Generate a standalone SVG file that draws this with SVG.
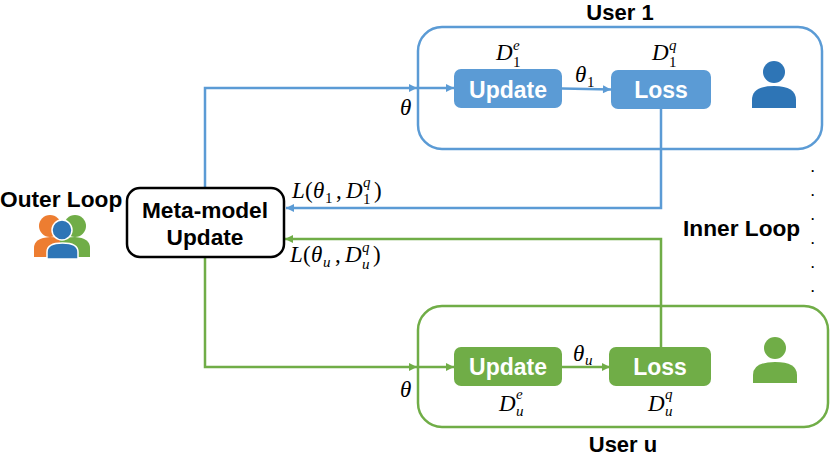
<svg xmlns="http://www.w3.org/2000/svg" width="830" height="457" viewBox="0 0 830 457">
<defs>
<marker id="ab" markerUnits="userSpaceOnUse" markerWidth="10" markerHeight="10" refX="9" refY="5" orient="auto"><path d="M1 1L9 5L1 9Z" fill="#5b9bd5"/></marker>
<marker id="ag" markerUnits="userSpaceOnUse" markerWidth="10" markerHeight="10" refX="9" refY="5" orient="auto"><path d="M1 1L9 5L1 9Z" fill="#70ad47"/></marker>
</defs>
<style>
text{font-family:"Liberation Sans",Arial,sans-serif;font-weight:700;fill:#000}
.t{font-size:22.7px}
.h{font-size:22px}
.w{font-size:23px;fill:#fff;text-anchor:middle}
.d{font-size:12px}
.m,.s,.n{font-family:"Liberation Serif","DejaVu Serif",serif;font-weight:400}
.m{font-style:italic;font-size:23px}
.n{font-size:23px}
.s{font-style:italic;font-size:15px}
.r{font-style:normal}
.cb{fill:none;stroke:#5b9bd5;stroke-width:2.5}
.cg{fill:none;stroke:#70ad47;stroke-width:2.5}
</style>
<g id="connectors">
<path class="cb" marker-end="url(#ab)" d="M205 187V88H417"/>
<path class="cb" marker-end="url(#ab)" d="M417 88H454"/>
<path class="cb" marker-end="url(#ab)" d="M562 88.500L611 89.500"/>
<path class="cb" marker-end="url(#ab)" d="M661 108V208H286"/>
<path class="cg" marker-end="url(#ag)" d="M661 347V239H285"/>
<path class="cg" marker-end="url(#ag)" d="M205 258V367H417"/>
<path class="cg" marker-end="url(#ag)" d="M417 367H454"/>
<path class="cg" marker-end="url(#ag)" d="M562 367H610"/>
</g>
<g id="user1">
<rect x="418" y="27" width="404" height="122" rx="24" fill="none" stroke="#5b9bd5" stroke-width="2.500"/>
<text class="h" x="620" y="20" text-anchor="middle">User 1</text>
<circle cx="774" cy="72" r="11" fill="#2e75b6"/>
<path d="M752 108V100Q752 86 774 86Q796 86 796 100V108Z" fill="#2e75b6"/>
</g>
<g id="update1"><rect x="454" y="69" width="108" height="39" rx="7" fill="#5b9bd5"/><text class="w" x="508" y="98">Update</text></g>
<g id="loss1"><rect x="611" y="70" width="100" height="39" rx="7" fill="#5b9bd5"/><text class="w" x="661" y="98">Loss</text></g>
<g id="useru">
<rect x="418" y="306" width="410" height="121" rx="24" fill="none" stroke="#70ad47" stroke-width="2.500"/>
<text class="h" x="623" y="452" text-anchor="middle">User u</text>
<circle cx="775" cy="348" r="11" fill="#70ad47"/>
<path d="M753 383V375Q753 362 775 362Q797 362 797 375V383Z" fill="#70ad47"/>
</g>
<g id="updateu"><rect x="454" y="347" width="108" height="39" rx="7" fill="#70ad47"/><text class="w" x="508" y="375">Update</text></g>
<g id="lossu"><rect x="609" y="347" width="102" height="39" rx="7" fill="#70ad47"/><text class="w" x="660" y="375">Loss</text></g>
<g id="meta">
<rect x="127" y="188" width="157" height="69" rx="13" fill="#fff" stroke="#000" stroke-width="2.500"/>
<text class="t" x="205" y="218" text-anchor="middle">Meta-model</text>
<text class="t" x="205" y="245" text-anchor="middle">Update</text>
</g>
<g id="outer">
<text class="t" x="0" y="207">Outer Loop</text>
<circle cx="50" cy="226" r="11" fill="#ed7d31"/>
<path d="M34 257V248Q34 238 50 237L66 238V257Z" fill="#ed7d31"/>
<circle cx="75" cy="226" r="11" fill="#70ad47"/>
<path d="M60 238L75 237Q90 238 90 248V257H60Z" fill="#70ad47"/>
<circle cx="62" cy="230" r="10" fill="#2e75b6" stroke="#fff" stroke-width="1.500"/>
<path d="M47 259V252Q47 243 62.500 243Q78 243 78 252V259Z" fill="#2e75b6" stroke="#fff" stroke-width="1.500"/>
</g>
<g id="inner"><text class="t" x="683" y="236">Inner Loop</text></g>
<g id="dots">
<text class="d" x="811" y="172">.</text>
<text class="d" x="811" y="196">.</text>
<text class="d" x="811" y="220">.</text>
<text class="d" x="811" y="244">.</text>
<text class="d" x="811" y="268">.</text>
<text class="d" x="811" y="292">.</text>
</g>
<g id="labels">
<text class="m" x="400" y="115">θ</text>
<text class="m" x="400" y="397">θ</text>
<text class="m" x="575" y="82">θ</text><text class="s r" x="587" y="87">1</text>
<text class="m" x="573" y="361">θ</text><text class="s" x="585" y="365">u</text>
<text class="m" x="496" y="60">D</text><text class="s" x="513" y="50">e</text><text class="s r" x="513" y="67">1</text>
<text class="m" x="652" y="60">D</text><text class="s" x="669" y="50">q</text><text class="s r" x="669" y="67">1</text>
<text class="m" x="499" y="411">D</text><text class="s" x="516" y="399">e</text><text class="s" x="516" y="416">u</text>
<text class="m" x="648" y="411">D</text><text class="s" x="665" y="399">q</text><text class="s" x="665" y="416">u</text>
<text class="m" x="292" y="198">L</text><text class="n" x="305" y="198">(</text><text class="m" x="313" y="198">θ</text><text class="s r" x="325" y="203">1</text><text class="n" x="336" y="198">,</text><text class="m" x="346" y="198">D</text><text class="s" x="363" y="187">q</text><text class="s r" x="363" y="204">1</text><text class="n" x="374" y="198">)</text>
<text class="m" x="290" y="262">L</text><text class="n" x="303" y="262">(</text><text class="m" x="311" y="262">θ</text><text class="s" x="323" y="267">u</text><text class="n" x="335" y="262">,</text><text class="m" x="345" y="262">D</text><text class="s" x="362" y="252">q</text><text class="s" x="362" y="269">u</text><text class="n" x="373" y="262">)</text>
</g>
</svg>
